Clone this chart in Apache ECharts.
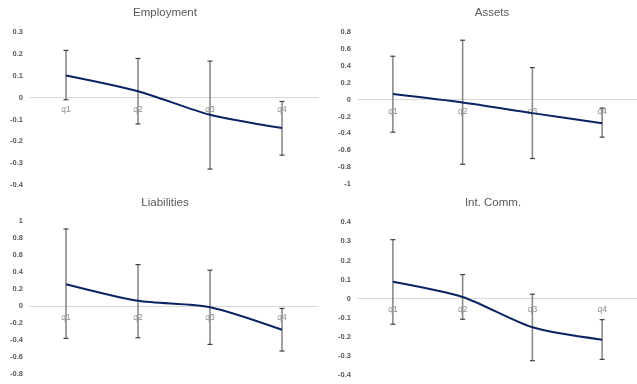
<!DOCTYPE html>
<html>
<head>
<meta charset="utf-8">
<script src="https://cdn.jsdelivr.net/npm/echarts@6/dist/echarts.min.js"></script>
<style>
  html, body { margin: 0; padding: 0; background: #fff; }
  #chart { width: 637px; height: 384px; }
</style>
</head>
<body>
<div id="chart"></div>
<script>
// Quarter categories shared by all four panels
const categories = ['q1', 'q2', 'q3', 'q4'];

// Panel titles
const titles = ['Employment', 'Assets', 'Liabilities', 'Int. Comm.'];

// Point estimates per panel
const employmentMean = [0.102, 0.030, -0.078, -0.139];
const assetsMean = [0.068, -0.032, -0.159, -0.278];
const liabilitiesMean = [0.255, 0.059, -0.016, -0.282];
const intCommMean = [0.089, 0.009, -0.150, -0.215];

// Lower bounds of the confidence intervals
const employmentLow = [-0.009, -0.120, -0.327, -0.263];
const assetsLow = [-0.385, -0.766, -0.698, -0.444];
const liabilitiesLow = [-0.384, -0.376, -0.455, -0.533];
const intCommLow = [-0.134, -0.108, -0.325, -0.318];

// Upper bounds of the confidence intervals
const employmentHigh = [0.217, 0.180, 0.168, -0.017];
const assetsHigh = [0.516, 0.706, 0.381, -0.099];
const liabilitiesHigh = [0.906, 0.486, 0.420, -0.031];
const intCommHigh = [0.309, 0.126, 0.023, -0.110];

// Value axis ranges: [min, max, interval]
const employmentTicks = [-0.4, 0.3, 0.1];
const assetsTicks = [-1, 0.8, 0.2];
const liabilitiesTicks = [-0.8, 1, 0.2];
const intCommTicks = [-0.4, 0.4, 0.1];

const panels = [
  { mean: employmentMean, low: employmentLow, high: employmentHigh, ticks: employmentTicks,
    grid: { left: 30, top: 32.3, width: 288, height: 152.7 }, titlePos: [165, 7] },
  { mean: assetsMean, low: assetsLow, high: assetsHigh, ticks: assetsTicks,
    grid: { left: 358, top: 32.3, width: 288, height: 151.7 }, titlePos: [492, 7] },
  { mean: liabilitiesMean, low: liabilitiesLow, high: liabilitiesHigh, ticks: liabilitiesTicks,
    grid: { left: 30, top: 221, width: 288, height: 152.7 }, titlePos: [165, 197] },
  { mean: intCommMean, low: intCommLow, high: intCommHigh, ticks: intCommTicks,
    grid: { left: 358, top: 222.3, width: 288, height: 152.7 }, titlePos: [493, 197] }
];

const FONT = '"Liberation Sans", Arial, sans-serif';

function decimals(v) {
  return Math.abs(v) < 1e-9 ? '0' : String(Math.round(v * 10) / 10);
}

// Distance (px) from the bottom of a grid up to its zero line
function zeroOffset(p) {
  const [min, max] = p.ticks;
  return p.grid.height * (0 - min) / (max - min);
}

// Vertical whisker with caps, from low to high
function renderErrorBar(params, api) {
  const x = api.value(0);
  const lo = api.coord([x, api.value(1)]);
  const hi = api.coord([x, api.value(2)]);
  const cap = 2.5;
  return {
    type: 'group',
    children: [
      { type: 'line', shape: { x1: lo[0], y1: lo[1], x2: hi[0], y2: hi[1] },
        style: { stroke: '#8a8a8a', lineWidth: 1.6 } },
      { type: 'line', shape: { x1: hi[0] - cap, y1: hi[1], x2: hi[0] + cap, y2: hi[1] },
        style: { stroke: '#404040', lineWidth: 1.2 } },
      { type: 'line', shape: { x1: lo[0] - cap, y1: lo[1], x2: lo[0] + cap, y2: lo[1] },
        style: { stroke: '#404040', lineWidth: 1.2 } }
    ]
  };
}

const option = {
  animation: false,
  backgroundColor: '#ffffff',
  title: panels.map((p, i) => ({
    text: titles[i],
    left: p.titlePos[0],
    top: p.titlePos[1],
    padding: 0,
    textAlign: 'center',
    textStyle: { fontFamily: FONT, fontSize: 11.5, fontWeight: 'normal', color: '#595959' }
  })),
  grid: panels.map(p => p.grid),
  xAxis: panels.map((p, i) => ({
    type: 'category',
    gridIndex: i,
    data: categories,
    boundaryGap: true,
    position: 'bottom',
    // category axis sits on the zero line, labels just beneath it
    offset: -zeroOffset(p),
    axisLine: { onZero: false, lineStyle: { color: '#d9d9d9', width: 1 } },
    axisTick: { show: false },
    axisLabel: { fontFamily: FONT, fontSize: 8.5, color: '#8c8c8c', margin: 7 },
    splitLine: { show: false }
  })),
  yAxis: panels.map((p, i) => ({
    type: 'value',
    gridIndex: i,
    min: p.ticks[0],
    max: p.ticks[1],
    interval: p.ticks[2],
    axisLine: { show: false },
    axisTick: { show: false },
    splitLine: { show: false },
    axisLabel: {
      fontFamily: FONT, fontSize: 7.5, fontWeight: 'bold', color: '#595959', margin: 7,
      formatter: decimals
    }
  })),
  series: panels.flatMap((p, i) => [
    {
      type: 'custom',
      xAxisIndex: i,
      yAxisIndex: i,
      z: 1,
      renderItem: renderErrorBar,
      encode: { x: 0, y: [1, 2] },
      data: categories.map((c, k) => [k, p.low[k], p.high[k]])
    },
    {
      type: 'line',
      xAxisIndex: i,
      yAxisIndex: i,
      z: 3,
      data: p.mean,
      smooth: 0.25,
      showSymbol: false,
      symbol: 'none',
      lineStyle: { color: '#0b2263', width: 2 }
    }
  ])
};

echarts.init(document.getElementById('chart'), null, { renderer: 'canvas' }).setOption(option);
</script>
</body>
</html>
